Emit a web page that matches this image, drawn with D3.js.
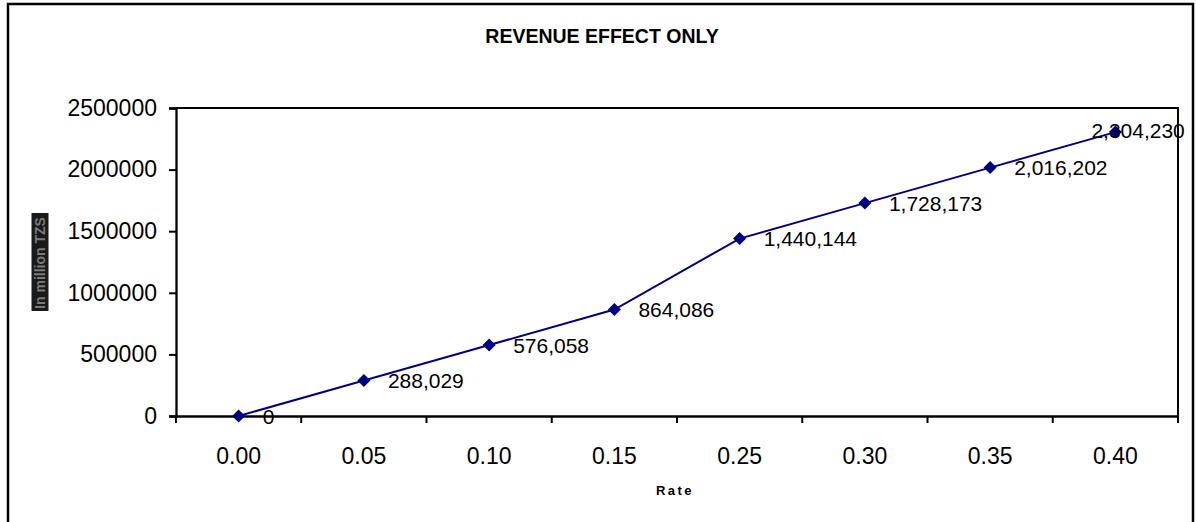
<!DOCTYPE html>
<html>
<head>
<meta charset="utf-8">
<script src="https://cdn.jsdelivr.net/npm/d3@7"></script>
<style>
  body { margin: 0; background: #fff; }
  svg { display: block; font-family: "Liberation Sans", Arial, sans-serif; }
</style>
</head>
<body>
<svg width="1196" height="522"></svg>
<script>
// chart data
let rates = ["0.00", "0.05", "0.10", "0.15", "0.25", "0.30", "0.35", "0.40"];
let revenue = [0, 288029, 576058, 864086, 1440144, 1728173, 2016202, 2304230];
let yTicks = [0, 500000, 1000000, 1500000, 2000000, 2500000];

let svg = d3.select("svg");

// outer chart frame (bottom edge runs off the picture)
svg.append("rect")
  .attr("x", 8).attr("y", 4)
  .attr("width", 1185).attr("height", 530)
  .attr("fill", "none").attr("stroke", "#000").attr("stroke-width", 2.5);

let plotLeft = 176, plotTop = 108, plotRight = 1178, plotBottom = 416;

let xScale = d3.scaleBand().domain(rates).range([plotLeft, plotRight]).padding(0);
let yScale = d3.scaleLinear().domain([0, 2500000]).range([plotBottom, plotTop]);

// title
svg.append("text")
  .attr("x", 602).attr("y", 43)
  .attr("text-anchor", "middle")
  .attr("font-size", 19.5).attr("font-weight", "bold")
  .text("REVENUE EFFECT ONLY");

// plot area box (top and right)
svg.append("path")
  .attr("d", "M" + plotLeft + "," + plotTop + "H" + plotRight + "V" + plotBottom)
  .attr("fill", "none").attr("stroke", "#000").attr("stroke-width", 2);

// y axis
let yAxis = svg.append("g")
  .attr("transform", "translate(" + plotLeft + ",0)")
  .call(d3.axisLeft(yScale).tickValues(yTicks).tickSize(7).tickPadding(12).tickFormat(d3.format("d")));
yAxis.selectAll("text").attr("font-size", 23).attr("fill", "#000").attr("font-family", "Liberation Sans, Arial, sans-serif");

// x axis, ticks on category boundaries
let xAxis = svg.append("g")
  .attr("transform", "translate(0," + plotBottom + ")")
  .call(d3.axisBottom(xScale).tickSize(0).tickPadding(32));
xAxis.selectAll("text").attr("font-size", 23).attr("fill", "#000").attr("font-family", "Liberation Sans, Arial, sans-serif");
let bounds = rates.map(function(d) { return xScale(d); }).concat([plotRight]);
xAxis.selectAll(".bound")
  .data(bounds)
  .enter().append("line")
  .attr("class", "bound")
  .attr("x1", function(d) { return d; }).attr("x2", function(d) { return d; })
  .attr("y1", 0).attr("y2", 7)
  .attr("stroke", "#000").attr("stroke-width", 2);

svg.selectAll(".domain").attr("stroke", "#000").attr("stroke-width", 2.3);
svg.selectAll(".tick line").attr("stroke", "#000").attr("stroke-width", 2);

// axis titles
svg.append("text")
  .attr("x", 675).attr("y", 495)
  .attr("text-anchor", "middle")
  .attr("font-size", 13).attr("font-weight", "bold")
  .attr("letter-spacing", 2.5)
  .text("Rate");

let yl = svg.append("g").attr("transform", "translate(40,262) rotate(-90)");
yl.append("rect")
  .attr("x", -49).attr("y", -8.5).attr("width", 98).attr("height", 17)
  .attr("fill", "#1a1a1a");
yl.append("text")
  .attr("x", -1).attr("y", 5)
  .attr("text-anchor", "middle")
  .attr("font-size", 14).attr("font-weight", "bold")
  .attr("fill", "#7a7a7a")
  .text("In million TZS");

// line
let cx = function(i) { return xScale(rates[i]) + xScale.bandwidth() / 2; };
let line = d3.line()
  .x(function(d, i) { return cx(i); })
  .y(function(d) { return yScale(d); });

svg.append("path")
  .datum(revenue)
  .attr("d", line)
  .attr("fill", "none")
  .attr("stroke", "#000080")
  .attr("stroke-width", 2);

// diamond markers
svg.selectAll(".marker")
  .data(revenue)
  .enter().append("path")
  .attr("class", "marker")
  .attr("d", "M0,-6.5L6.5,0L0,6.5L-6.5,0Z")
  .attr("transform", function(d, i) { return "translate(" + cx(i) + "," + yScale(d) + ")"; })
  .attr("fill", "#000080");

// data labels (last one is pulled back so it stays inside the plot)
let fmt = d3.format(",");
let last = revenue.length - 1;
svg.selectAll(".label")
  .data(revenue)
  .enter().append("text")
  .attr("class", "label")
  .attr("font-size", 21)
  .attr("x", function(d, i) { return i === last ? cx(i) - 24 : cx(i) + 24; })
  .attr("y", function(d, i) { return i === last ? yScale(d) + 5.5 : yScale(d) + 7.5; })
  .text(function(d) { return fmt(d); });
</script>
</body>
</html>
